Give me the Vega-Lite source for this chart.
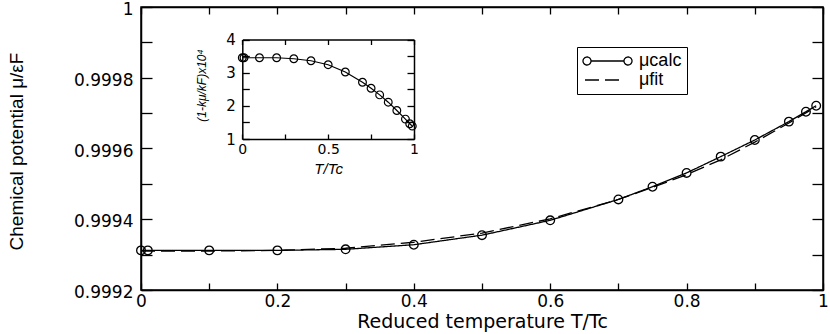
{
  "$schema": "https://vega.github.io/schema/vega-lite/v6.json",
  "width": 682,
  "height": 283,
  "autosize": "none",
  "padding": {"left": 141, "top": 7, "right": 7, "bottom": 44},
  "background": "white",
  "config": {
    "view": {"stroke": "black", "strokeWidth": 1.5},
    "font": "Liberation Sans",
    "axis": {
      "grid": false,
      "domainColor": "black",
      "domainWidth": 1.5,
      "tickColor": "black",
      "tickWidth": 1.3,
      "labelColor": "black",
      "titleColor": "black",
      "labelFont": "DejaVu Sans",
      "titleFont": "Liberation Sans",
      "titleFontWeight": "normal"
    }
  },
  "datasets": {
    "main": [
      {"T": 0, "mu": 0.999312, "series": "calc"},
      {"T": 0.01, "mu": 0.999312, "series": "calc"},
      {"T": 0.1, "mu": 0.999312, "series": "calc"},
      {"T": 0.2, "mu": 0.999312, "series": "calc"},
      {"T": 0.3, "mu": 0.999315, "series": "calc"},
      {"T": 0.4, "mu": 0.999328, "series": "calc"},
      {"T": 0.5, "mu": 0.999355, "series": "calc"},
      {"T": 0.6, "mu": 0.999397, "series": "calc"},
      {"T": 0.7, "mu": 0.999456, "series": "calc"},
      {"T": 0.75, "mu": 0.999492, "series": "calc"},
      {"T": 0.8, "mu": 0.999531, "series": "calc"},
      {"T": 0.85, "mu": 0.999577, "series": "calc"},
      {"T": 0.9, "mu": 0.999624, "series": "calc"},
      {"T": 0.95, "mu": 0.999676, "series": "calc"},
      {"T": 0.975, "mu": 0.999704, "series": "calc"},
      {"T": 0.99, "mu": 0.999721, "series": "calc"},
      {"T": 0, "mu": 0.99931, "series": "fit"},
      {"T": 0.1, "mu": 0.99931, "series": "fit"},
      {"T": 0.2, "mu": 0.999312, "series": "fit"},
      {"T": 0.3, "mu": 0.999318, "series": "fit"},
      {"T": 0.4, "mu": 0.999335, "series": "fit"},
      {"T": 0.5, "mu": 0.999361, "series": "fit"},
      {"T": 0.6, "mu": 0.999401, "series": "fit"},
      {"T": 0.7, "mu": 0.999456, "series": "fit"},
      {"T": 0.75, "mu": 0.99949, "series": "fit"},
      {"T": 0.8, "mu": 0.999526, "series": "fit"},
      {"T": 0.85, "mu": 0.999568, "series": "fit"},
      {"T": 0.9, "mu": 0.999618, "series": "fit"},
      {"T": 0.95, "mu": 0.999672, "series": "fit"},
      {"T": 0.99, "mu": 0.999718, "series": "fit"}
    ],
    "inset": [
      {"T": 0, "r": 3.45},
      {"T": 0.01, "r": 3.45},
      {"T": 0.1, "r": 3.45},
      {"T": 0.2, "r": 3.45},
      {"T": 0.3, "r": 3.42},
      {"T": 0.4, "r": 3.36},
      {"T": 0.5, "r": 3.24},
      {"T": 0.6, "r": 3.02},
      {"T": 0.7, "r": 2.71},
      {"T": 0.75, "r": 2.53},
      {"T": 0.8, "r": 2.33},
      {"T": 0.85, "r": 2.11},
      {"T": 0.9, "r": 1.86},
      {"T": 0.95, "r": 1.6},
      {"T": 0.975, "r": 1.46},
      {"T": 0.99, "r": 1.39}
    ]
  },
  "layer": [
    {
      "resolve": {"axis": {"x": "independent", "y": "independent"}},
      "layer": [
        {
          "data": {"name": "main"},
          "mark": {"type": "line", "color": "black", "strokeWidth": 1.3},
          "encoding": {
            "x": {
              "field": "T", "type": "quantitative",
              "scale": {"domain": [0, 1], "nice": false, "zero": false},
              "axis": {
                "orient": "bottom",
                "values": [0, 0.1, 0.2, 0.3, 0.4, 0.5, 0.6, 0.7, 0.8, 0.9, 1],
                "labelExpr": "round(datum.value*10) % 2 == 0 ? format(datum.value, '~g') : ''",
                "tickSize": -7,
                "labelPadding": 10,
                "labelFontSize": 17,
                "labelFlush": false,
                "title": "Reduced temperature   T/Tc",
                "titleFont": "DejaVu Sans",
                "titleFontSize": 19,
                "titleBaseline": "alphabetic",
                "titleY": 37
              }
            },
            "y": {
              "field": "mu", "type": "quantitative",
              "scale": {"domain": [0.9992, 1], "nice": false, "zero": false},
              "axis": {
                "orient": "left",
                "values": [0.9992, 0.9993, 0.9994, 0.9995, 0.9996, 0.9997, 0.9998, 0.9999, 1],
                "labelExpr": "round(datum.value*10000) % 2 == 0 ? format(datum.value, '.4~f') : ''",
                "tickSize": -11,
                "labelPadding": 19,
                "labelFontSize": 17,
                "labelOffset": 2.5,
                "labelFlush": false,
                "title": "Chemical potential  μ/εF",
                "titleFontSize": 19,
                "titleBaseline": "alphabetic",
                "titleX": -119,
                "titleY": 144
              }
            },
            "strokeDash": {
              "field": "series", "type": "nominal",
              "scale": {"domain": ["calc", "fit"], "range": [[1, 0], [14, 6]]},
              "legend": {
                "orient": "none",
                "legendX": 436,
                "legendY": 40,
                "title": null,
                "padding": 5,
                "rowPadding": 1,
                "symbolSize": 256,
                "symbolOpacity": 1,
                "symbolStrokeColor": "black",
                "symbolFillColor": "transparent",
                "symbolStrokeWidth": 1.3,
                "labelOffset": 39,
                "labelFontSize": 18,
                "labelColor": "black",
                "labelFont": "Liberation Sans",
                "labelExpr": "datum.label == 'calc' ? 'μcalc' : 'μfit'",
                "strokeColor": "black",
                "fillColor": "white"
              }
            }
          }
        },
        {
          "data": {"name": "main"},
          "transform": [{"filter": "datum.series == 'calc'"}],
          "mark": {"type": "point", "shape": "circle", "filled": false, "color": "black", "size": 75, "strokeWidth": 1.3, "opacity": 1},
          "encoding": {
            "x": {
              "field": "T", "type": "quantitative",
              "axis": {
                "orient": "top",
                "values": [0, 0.1, 0.2, 0.3, 0.4, 0.5, 0.6, 0.7, 0.8, 0.9, 1],
                "labels": false, "tickSize": -7, "title": null
              }
            },
            "y": {
              "field": "mu", "type": "quantitative",
              "axis": {
                "orient": "right",
                "values": [0.9992, 0.9993, 0.9994, 0.9995, 0.9996, 0.9997, 0.9998, 0.9999, 1],
                "labels": false, "tickSize": -11, "title": null
              }
            }
          }
        }
      ]
    },
    {
      "resolve": {"axis": {"x": "independent", "y": "independent"}},
      "layer": [
        {
          "data": {"name": "inset"},
          "mark": {"type": "line", "color": "black", "strokeWidth": 1.2},
          "encoding": {
            "x": {
              "field": "T", "type": "quantitative",
              "scale": {"domain": [0, 1], "range": [101.3, 273], "nice": false, "zero": false},
              "axis": {
                "orient": "bottom",
                "offset": -151,
                "values": [0, 0.25, 0.5, 0.75, 1],
                "labelExpr": "round(datum.value*4) % 2 == 0 ? format(datum.value, '~g') : ''",
                "tickSize": -5,
                "labelPadding": 8,
                "labelFontSize": 14,
                "labelFlush": false,
                "title": "T/Tc",
                "titleFontSize": 15,
                "titleFontStyle": "italic",
                "titleBaseline": "alphabetic",
                "titleY": 34
              }
            },
            "y": {
              "field": "r", "type": "quantitative",
              "scale": {"domain": [1, 4], "range": [132, 32.5], "nice": false, "zero": false},
              "axis": {
                "orient": "left",
                "offset": -101.3,
                "values": [1, 1.5, 2, 2.5, 3, 3.5, 4],
                "labelExpr": "round(datum.value*2) % 2 == 0 ? format(datum.value, '~g') : ''",
                "tickSize": -7,
                "labelPadding": 14,
                "labelFontSize": 15,
                "labelFlush": false,
                "title": "(1-kμ/kF)x10⁴",
                "titleFontSize": 12,
                "titleFontStyle": "italic",
                "titleBaseline": "alphabetic",
                "titleX": -37,
                "titleY": 78
              }
            }
          }
        },
        {
          "data": {"name": "inset"},
          "mark": {"type": "point", "shape": "circle", "filled": false, "color": "black", "size": 60, "strokeWidth": 1.2, "opacity": 1},
          "encoding": {
            "x": {
              "field": "T", "type": "quantitative",
              "axis": {
                "orient": "top", "offset": -32.5,
                "values": [0, 0.25, 0.5, 0.75, 1],
                "labels": false, "tickSize": -5, "title": null
              }
            },
            "y": {
              "field": "r", "type": "quantitative",
              "axis": {
                "orient": "right", "offset": -409,
                "values": [1, 1.5, 2, 2.5, 3, 3.5, 4],
                "labels": false, "tickSize": -7, "title": null
              }
            }
          }
        }
      ]
    },
    {
      "data": {"name": "main"},
      "mark": {"type": "point", "opacity": 0, "filled": false, "color": "black"},
      "encoding": {
        "shape": {
          "field": "series", "type": "nominal",
          "scale": {
            "domain": ["calc", "fit"],
            "range": [
              "M-1,0 A0.5,0.5 0 1,0 0,0 A0.5,0.5 0 1,0 -1,0 M0,0 L4.125,0 M4.125,0 A0.5,0.5 0 1,0 5.125,0 A0.5,0.5 0 1,0 4.125,0",
              "M-0.75,0 L3.5,0"
            ]
          },
          "legend": {
            "orient": "none",
            "legendX": 436,
            "legendY": 40,
            "title": null,
            "padding": 5,
            "rowPadding": 1,
            "symbolSize": 256,
            "symbolOpacity": 1,
            "symbolStrokeColor": "black",
            "symbolFillColor": "transparent",
            "symbolStrokeWidth": 1.3,
            "labelOffset": 39,
            "labelFontSize": 18,
            "labelColor": "black",
            "labelFont": "Liberation Sans",
            "labelExpr": "datum.label == 'calc' ? 'μcalc' : 'μfit'",
            "strokeColor": "black",
            "fillColor": "white"
          }
        }
      }
    }
  ],
  "resolve": {
    "scale": {"x": "independent", "y": "independent"},
    "axis": {"x": "independent", "y": "independent"}
  }
}
